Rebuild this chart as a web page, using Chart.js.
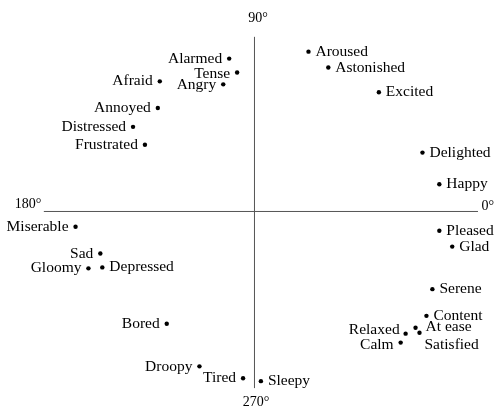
<!DOCTYPE html>
<html>
<head>
<meta charset="utf-8">
<script src="https://cdn.jsdelivr.net/npm/chart.js@4.4.0/dist/chart.umd.min.js"></script>
<style>
  html, body { margin: 0; padding: 0; background: #fff; }
  #wrap { width: 501px; height: 418px; }
</style>
</head>
<body>
<div id="wrap"><canvas id="chart" width="501" height="418"></canvas></div>
<script>
// affect words (x = pleasure, y = arousal)
const words = ['Alarmed', 'Tense', 'Angry', 'Afraid', 'Annoyed', 'Distressed', 'Frustrated',
  'Aroused', 'Astonished', 'Excited', 'Delighted', 'Happy',
  'Miserable', 'Sad', 'Gloomy', 'Depressed', 'Bored', 'Droopy', 'Tired',
  'Pleased', 'Glad', 'Serene', 'Content', 'At ease', 'Satisfied', 'Relaxed', 'Calm', 'Sleepy'];
const pleasure = [-0.125, -0.085, -0.155, -0.475, -0.485, -0.61, -0.55,
  0.275, 0.375, 0.63, 0.85, 0.935,
  -0.9, -0.775, -0.835, -0.765, -0.44, -0.275, -0.055,
  0.935, 1.0, 0.9, 0.87, 0.815, 0.835, 0.765, 0.74, 0.035];
const arousal = [0.77, 0.70, 0.64, 0.655, 0.52, 0.425, 0.335,
  0.805, 0.725, 0.60, 0.295, 0.135,
  -0.08, -0.215, -0.29, -0.285, -0.57, -0.785, -0.845,
  -0.10, -0.18, -0.395, -0.53, -0.59, -0.615, -0.62, -0.665, -0.86];
const axisTicks = ['0°', '90°', '180°', '270°'];

// where each label sits relative to its dot: [align, dx, dy]
const place = {
  'Alarmed': ['right', -7, 0], 'Tense': ['right', -7, 1], 'Angry': ['right', -7, 1],
  'Afraid': ['right', -7, 0], 'Annoyed': ['right', -7, 0], 'Distressed': ['right', -7, 0],
  'Frustrated': ['right', -7, 0], 'Miserable': ['right', -7, 0], 'Sad': ['right', -7, 0],
  'Gloomy': ['right', -7, 0], 'Bored': ['right', -7, 0], 'Droopy': ['right', -7, 1],
  'Tired': ['right', -7, 0], 'Relaxed': ['right', -6, -4], 'Calm': ['right', -7, 2],
  'At ease': ['left', 10, -1], 'Satisfied': ['left', 5, 12], 'Content': ['left', 7, 0]
};

const pts = words.map((w, i) => ({ x: pleasure[i], y: arousal[i] }));

const axesAndLabels = {
  id: 'axesAndLabels',
  beforeDatasetsDraw(chart) {
    const { ctx, scales: { x, y } } = chart;
    const x0 = x.getPixelForValue(0), y0 = y.getPixelForValue(0);
    ctx.save();
    ctx.strokeStyle = '#555';
    ctx.lineWidth = 1;
    ctx.beginPath();
    ctx.moveTo(x0 + 0.5, y.getPixelForValue(0.88));
    ctx.lineTo(x0 + 0.5, y.getPixelForValue(-0.895));
    ctx.moveTo(x.getPixelForValue(-1.06), y0 + 0.5);
    ctx.lineTo(x.getPixelForValue(1.13), y0 + 0.5);
    ctx.stroke();
    ctx.fillStyle = '#000';
    ctx.font = '14px "Liberation Serif"';
    ctx.textBaseline = 'middle';
    ctx.textAlign = 'center';
    ctx.fillText(axisTicks[1], x0 + 4, y.getPixelForValue(0.975));
    ctx.fillText(axisTicks[3], x0 + 2, y.getPixelForValue(-0.965));
    ctx.fillText(axisTicks[2], x.getPixelForValue(-1.14), y0 - 7);
    ctx.fillText(axisTicks[0], x.getPixelForValue(1.18), y0 - 5);
    ctx.restore();
  },
  afterDatasetsDraw(chart) {
    const { ctx } = chart;
    const meta = chart.getDatasetMeta(0);
    ctx.save();
    ctx.fillStyle = '#000';
    ctx.font = '15.5px "Liberation Serif"';
    ctx.textBaseline = 'middle';
    meta.data.forEach((pt, i) => {
      const p = place[words[i]] || ['left', 7, 0];
      ctx.textAlign = p[0];
      ctx.fillText(words[i], pt.x + p[1], pt.y + p[2]);
    });
    ctx.restore();
  }
};

new Chart(document.getElementById('chart'), {
  type: 'scatter',
  data: {
    datasets: [{
      data: pts,
      pointRadius: 2.2,
      pointHoverRadius: 2.2,
      backgroundColor: '#000',
      borderWidth: 0
    }]
  },
  options: {
    responsive: false,
    animation: false,
    layout: { padding: 0 },
    plugins: { legend: { display: false }, tooltip: { enabled: false } },
    scales: {
      x: { type: 'linear', min: -1.27, max: 1.235, display: false },
      y: { type: 'linear', min: -1.035, max: 1.055, display: false }
    }
  },
  plugins: [axesAndLabels]
});
</script>
</body>
</html>
